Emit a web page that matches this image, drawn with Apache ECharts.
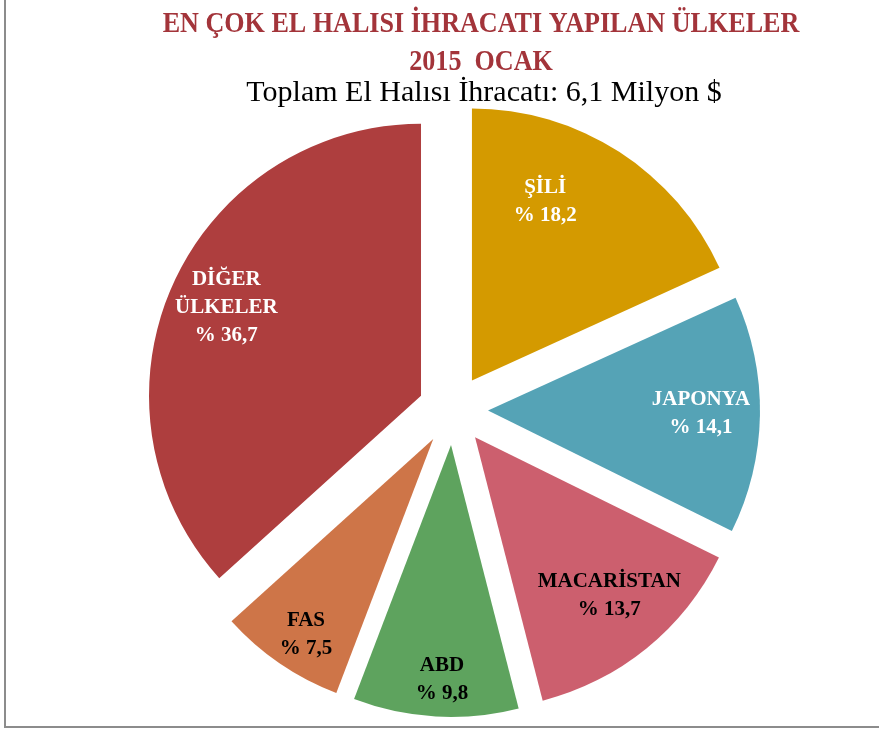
<!DOCTYPE html>
<html>
<head>
<meta charset="utf-8">
<script src="https://cdn.jsdelivr.net/npm/echarts@6/dist/echarts.min.js"></script>
<style>
  html, body { margin: 0; padding: 0; background: #fff; }
  #chart { width: 879px; height: 733px; }
</style>
</head>
<body>
<div id="chart"></div>
<script>
// ülkeler ve yüzdeleri (saat yönünde, tepeden başlayarak)
const countries = ['ŞİLİ', 'JAPONYA', 'MACARİSTAN', 'ABD', 'FAS', 'DİĞER\nÜLKELER'];
const shares = [18.2, 14.1, 13.7, 9.8, 7.5, 36.7];
const colors = ['#D49A00', '#55A3B6', '#CC5F6E', '#5EA35E', '#CE7548', '#AE3E3E'];
const labelColors = ['#fff', '#fff', '#000', '#000', '#000', '#fff'];

const titleLines = ['EN ÇOK EL HALISI İHRACATI YAPILAN ÜLKELER', '2015  OCAK'];
const subTitle = 'Toplam El Halısı İhracatı: 6,1 Milyon $';

const serif = '"Liberation Serif", "Times New Roman", serif';
const center = [453, 410];
const offset = 35;
// excel etiketleri tam ortada durmuyor, biraz kaydır
const labelShift = { 0: [-42, 0], 2: [0, -7], 3: [3, 22], 4: [-7, 20], 5: [0, -2] };

const chart = echarts.init(document.getElementById('chart'));

const pieData = countries.map((c, i) => ({
  name: c,
  value: shares[i],
  selected: true,
  itemStyle: { color: colors[i] }
}));

// sadece etiketler için görünmez halka
const labelData = countries.map((c, i) => ({
  name: c,
  value: shares[i],
  selected: true,
  label: { color: labelColors[i] }
}));

chart.setOption({
  animation: false,
  graphic: [
    {
      type: 'rect',
      shape: { x: 5, y: -5, width: 890, height: 732 },
      style: { fill: 'none', stroke: '#8c8c8c', lineWidth: 2 },
      silent: true
    },
    {
      type: 'text', x: 481, y: 6, scaleX: 0.9,
      style: {
        text: titleLines.join('\n'), fill: '#A3343A',
        font: 'bold 29px ' + serif, textAlign: 'center', lineHeight: 38
      }
    },
    {
      type: 'text', x: 484, y: 75, scaleX: 1,
      style: {
        text: subTitle, fill: '#000',
        font: '30px ' + serif, textAlign: 'center', lineHeight: 36
      }
    }
  ],
  series: [
    {
      type: 'pie',
      center: center,
      radius: [0, 272],
      startAngle: 90,
      selectedMode: 'multiple',
      selectedOffset: offset,
      silent: true,
      label: { show: false },
      labelLine: { show: false },
      emphasis: { scale: false },
      data: pieData
    },
    {
      type: 'pie',
      center: center,
      radius: [140, 280],
      startAngle: 90,
      selectedMode: 'multiple',
      selectedOffset: offset,
      silent: true,
      itemStyle: { color: 'transparent' },
      label: {
        show: true,
        position: 'inside',
        formatter: p => p.name + '\n% ' + String(p.value).replace('.', ','),
        fontFamily: serif,
        fontWeight: 'bold',
        fontSize: 21,
        lineHeight: 28
      },
      labelLayout: p => {
        const s = labelShift[p.dataIndex] || [0, 0];
        return { dx: s[0], dy: s[1] };
      },
      labelLine: { show: false },
      emphasis: { scale: false },
      data: labelData
    }
  ]
});
</script>
</body>
</html>
